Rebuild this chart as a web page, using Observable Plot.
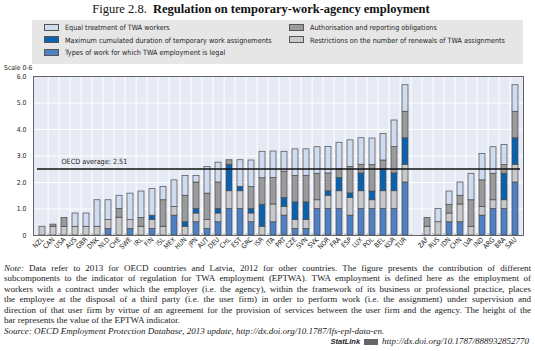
<!DOCTYPE html>
<html>
<head>
<meta charset="utf-8">
<script src="https://cdn.jsdelivr.net/npm/d3@7"></script>
<script src="https://cdn.jsdelivr.net/npm/@observablehq/plot@0.6"></script>
<style>
  html, body { margin: 0; padding: 0; background: #fff; }
  body { width: 535px; height: 351px; position: relative; overflow: hidden; }
  #title { position: absolute; left: 0; top: 2px; width: 522px; text-align: center;
    font-family: "Liberation Serif", serif; font-size: 12.5px; color: #111; }
  #legend { position: absolute; left: 32px; top: 20px; width: 491px; height: 44px; background: #e6e6e6;
    font-family: "DejaVu Sans Condensed", sans-serif; font-size: 7.2px; color: #222; }
  .li { position: absolute; height: 10px; line-height: 10px; white-space: nowrap; }
  .sw { display: inline-block; width: 13px; height: 5px; border: 0.8px solid #555; vertical-align: middle; margin-right: 6px; position: relative; top: -1px; }
  #scale { position: absolute; left: 4px; top: 64px; font-family: "DejaVu Sans Condensed", sans-serif; font-size: 6.8px; color: #222; }
  #chart { position: absolute; left: 0; top: 68px; }
  #note { position: absolute; left: 4px; top: 262.5px; width: 527px; font-family: "Liberation Serif", serif;
    font-size: 9.0px; line-height: 10.6px; color: #222; }
  #note div { white-space: nowrap; text-align: justify; text-align-last: justify; }
  #note div.last { text-align-last: left; }
  #statlink { position: absolute; right: 6px; top: 336px; font-family: "Liberation Serif", serif; font-size: 9px; color: #222; font-style: italic; white-space: nowrap; }
  #statlink b { font-family: "Liberation Sans", sans-serif; font-size: 7.5px; margin-right: 4px; }
  .ico { display:inline-block; width: 14px; height: 6px; background:#666; margin-right: 4px; vertical-align: middle; }
</style>
</head>
<body>
<div id="title">Figure 2.8.&nbsp; <b>Regulation on temporary-work-agency employment</b></div>
<div id="legend"></div>
<div id="scale">Scale 0-6</div>
<div id="chart"></div>
<div id="note">
<div><i>Note:</i> Data refer to 2013 for OECD countries and Latvia, 2012 for other countries. The figure presents the contribution of different</div>
<div>subcomponents to the indicator of regulation for TWA employment (EPTWA). TWA employment is defined here as the employment of</div>
<div>workers with a contract under which the employer (i.e. the agency), within the framework of its business or professional practice, places</div>
<div>the employee at the disposal of a third party (i.e. the user firm) in order to perform work (i.e. the assignment) under supervision and</div>
<div>direction of that user firm by virtue of an agreement for the provision of services between the user firm and the agency. The height of the</div>
<div class="last">bar represents the value of the EPTWA indicator.</div>
<div class="last"><i>Source: OECD Employment Protection Database, 2013 update, http://dx.doi.org/10.1787/lfs-epl-data-en.</i></div>
</div>
<div id="statlink"><b>StatLink</b><span class="ico"></span>http://dx.doi.org/10.1787/888932852770</div>
<script>
const countries = ["NZL","CAN","USA","AUS","GBR","DNK","NLD","CHE","SWE","IRL","FIN","ISL","MEX","HUN","JPN","AUT","DEU","CHL","EST","GRC","ISR","ITA","PRT","CZE","SVN","SVK","NOR","FRA","ESP","LUX","POL","BEL","KOR","TUR","ZAF","RUS","IDN","CHN","LVA","IND","ARG","BRA","SAU"];
const typesOfWork = [0,0,0,0,0,0,0.25,0,0.25,0,0.25,0,0.75,0,0.5,0.25,0.5,1.0,1.0,0.5,0,0.5,0.75,0.25,0.25,1.0,1.0,1.0,0.75,1.0,1.0,1.0,1.0,2.0,0,0,0.5,0.5,0,0.75,1.0,1.0,2.0];
const restrictions = [0.33,0.33,0.33,0.33,0.33,0.33,0.33,0.67,0.33,0.33,0.33,0.33,0.33,0.33,0.33,0.33,0.33,0.67,0.67,0.33,0.33,0.67,0.33,0.33,0.33,0.33,0.5,0.67,0.67,0.67,0.33,0.67,0.67,0.67,0.33,0.5,0.33,0.67,0.33,0.33,0.33,0.33,0.67];
const maxDuration = [0,0,0,0,0,0,0,0,0,0,0.17,0,0,0.17,0.17,0,0.17,1.0,0.17,0.17,0.83,0,0.33,0.67,0.67,0,0.17,0.5,0.17,0.67,0.33,0.83,0.67,1.0,0,0,0,0,0,0,0,1.0,1.0];
const authorisation = [0,0.08,0.33,0,0,0,0,0.33,0,0.33,0,1.0,0,1.0,1.0,1.0,1.0,0.17,0,0.83,1.0,1.0,1.0,1.0,1.0,1.0,0.67,0.33,1.0,0.33,1.0,0.33,1.0,1.0,0.33,0,0.33,0.33,1.0,1.0,1.0,0.33,1.0];
const equalTreatment = [0,0,0,0.5,0.5,1.0,0.75,0.5,1.0,1.0,1.0,0.5,1.0,0.75,0.25,1.0,0.75,0,1.0,1.0,1.0,1.0,0.75,1.0,1.0,1.0,1.0,1.0,1.0,1.0,1.0,1.0,1.0,1.0,0,0.5,0.5,0.5,1.0,1.0,1.0,0.75,1.0];
const oecdAverage = 2.51;
const gapAfter = "TUR";

const components = [
  {key: "Types of work for which TWA employment is legal", values: typesOfWork, color: "#4f80c4"},
  {key: "Restrictions on the number of renewals of TWA assignments", values: restrictions, color: "#c9c9c9"},
  {key: "Maximum cumulated duration of temporary work assignements", values: maxDuration, color: "#0a62ae"},
  {key: "Authorisation and reporting obligations", values: authorisation, color: "#9b9b9b"},
  {key: "Equal treatment of TWA workers", values: equalTreatment, color: "#cfdbef"}
];

// legend
const legendOrder = [
  [components[4], 0, 0], [components[2], 0, 1], [components[0], 0, 2],
  [components[3], 1, 0], [components[1], 1, 1]
];
const leg = document.getElementById("legend");
for (const [c, col, row] of legendOrder) {
  const d = document.createElement("div");
  d.className = "li";
  d.style.left = (col === 0 ? 12 : 257) + "px";
  d.style.top = (3 + row * 12.5) + "px";
  d.innerHTML = `<span class="sw" style="background:${c.color}"></span>${c.key}`;
  leg.appendChild(d);
}

const domain = [];
for (const c of countries) { domain.push(c); if (c === gapAfter) domain.push("_gap"); }

const data = [];
components.forEach((comp, ci) => {
  countries.forEach((c, i) => {
    data.push({country: c, component: comp.key, order: ci, value: comp.values[i]});
  });
});

const W = 535, H = 192, mL = 33, mR = 12, mT = 8, mB = 25;
const step = (W - mL - mR) / domain.length;

const chart = Plot.plot({
  width: W, height: H,
  marginLeft: mL, marginRight: mR, marginTop: mT, marginBottom: mB,
  style: {fontFamily: "'DejaVu Sans Condensed', sans-serif", fontSize: "6.8px", color: "#222", background: "transparent"},
  x: {domain, padding: 0.5, paddingOuter: 0, label: null, tickSize: 0, tickRotate: -45, tickPadding: 3,
      tickFormat: d => d === "_gap" ? "" : d},
  y: {domain: [0, 6], ticks: [0,1,2,3,4,5,6], tickFormat: d => d === 0 ? "0" : d.toFixed(1), label: null, tickSize: 0, tickPadding: 7},
  color: {domain: components.map(c => c.key), range: components.map(c => c.color)},
  marks: [
    Plot.frame({fill: "#e6eaf4", stroke: "none"}),
    Plot.ruleY([1,2,3,4,5], {stroke: "white", strokeWidth: 1}),
    Plot.ruleX(domain.slice(0, -1), {x: d => d, dx: step / 2, stroke: "white", strokeWidth: 1}),
    Plot.ruleX(domain.slice(0, -1), {x: d => d, dx: step / 2, y1: 0, y2: 0.07, stroke: "#888", strokeWidth: 0.8}),
    Plot.barY(data, Plot.stackY({
      x: "country", y: "value", fill: "component", order: "order",
      stroke: "#4a4a4a", strokeWidth: 0.7,
      filter: d => d.value > 0
    })),
    Plot.ruleY([oecdAverage], {stroke: "#111", strokeWidth: 1.4, insetLeft: 4, insetRight: 3}),
    Plot.text([`OECD average: ${oecdAverage}`], {x: () => "USA", y: () => oecdAverage, dy: -7, dx: -3, textAnchor: "start", fontSize: 7.2, fill: "#222"}),
    Plot.frame({stroke: "#555", strokeWidth: 0.9})
  ]
});
document.getElementById("chart").appendChild(chart);
</script>
</body>
</html>
